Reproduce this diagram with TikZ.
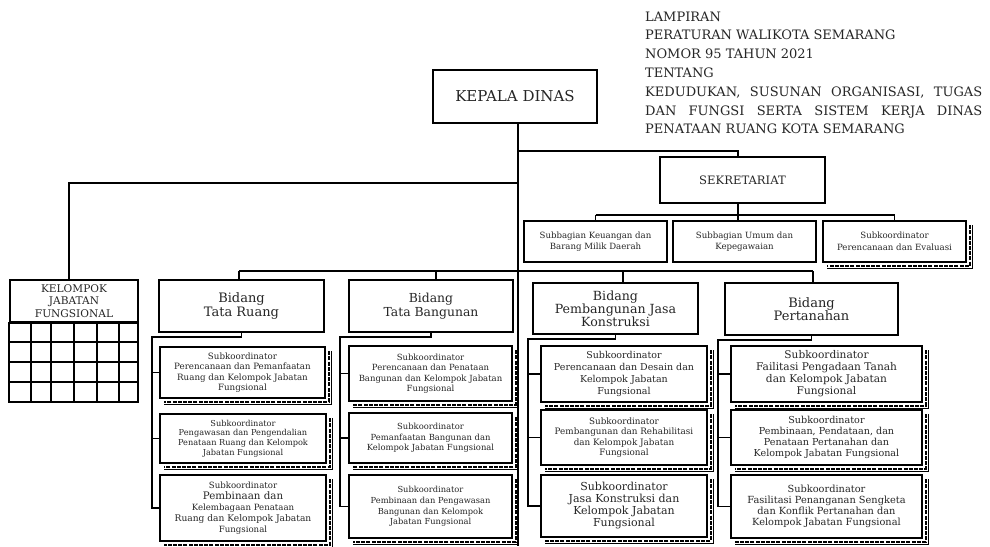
\documentclass[tikz,border=0pt]{standalone}
\usepackage{fontspec}
\setmainfont{DejaVu Serif}
\newcommand{\fsz}[2]{\fontsize{#1}{#2}\selectfont}
\newcommand{\shd}[1]{%
 \draw[line width=0.8pt] ([shift={(5.5,5)}]#1.north east) -- ([shift={(5.5,5.5)}]#1.south east) -- ([shift={(5,5.5)}]#1.south west);
 \draw[line width=2.2pt, dash pattern=on 4pt off 1.2pt] ([shift={(3,5)}]#1.north east) -- ([shift={(3,3)}]#1.south east) -- ([shift={(5,3)}]#1.south west);
}
\begin{document}
\begin{tikzpicture}[x=1pt,y=-1pt,
  box/.style={draw, line width=1.6pt, fill=white, align=center, inner sep=1pt, text=black!85},
  conn/.style={line width=1.4pt},
  hdr/.style={inner sep=0pt, anchor=base west, font=\fsz{13}{15}, text=black!85}]
\useasboundingbox[fill=white] (0,0) rectangle (990,546);

% header
\node[hdr] (h1) at (645,21) {LAMPIRAN};
\node[hdr] (h2) at (645,39.8) {PERATURAN WALIKOTA SEMARANG};
\node[hdr] (h3) at (645,58.6) {NOMOR 95 TAHUN 2021};
\node[hdr] (h4) at (645,77.4) {TENTANG};
\node[hdr] (h5) at (645,96.2) {\makebox[337pt][s]{KEDUDUKAN, SUSUNAN ORGANISASI, TUGAS}};
\node[hdr] (h6) at (645,115) {\makebox[337pt][s]{DAN FUNGSI SERTA SISTEM KERJA DINAS}};
\node[hdr] (h7) at (645,133.8) {PENATAAN RUANG KOTA SEMARANG};

% kepala & sekretariat
\node[box, minimum width=164, minimum height=53, font=\fsz{15}{17}] (kd) at (515,96.5) {KEPALA DINAS};
\node[box, minimum width=165, minimum height=46, font=\fsz{11.6}{14}] (sek) at (742.5,180) {SEKRETARIAT};
\node[box, minimum width=143, minimum height=41, font=\fsz{8.6}{11.5}] (sb1) at (595.5,241.5) {Subbagian Keuangan dan\\Barang Milik Daerah};
\node[box, minimum width=143, minimum height=41, font=\fsz{8.6}{11.5}] (sb2) at (744.5,241.5) {Subbagian Umum dan\\Kepegawaian};
\node[box, minimum width=143, minimum height=41, font=\fsz{8.6}{11.5}] (sb3) at (894.5,241.5) {Subkoordinator\\Perencanaan dan Evaluasi};
\shd{sb3}

% kelompok jabatan fungsional
\node[box, minimum width=128, minimum height=42, font=\fsz{10.6}{12.2}] (kjf) at (74,301) {KELOMPOK\\JABATAN\\FUNGSIONAL};
\draw[line width=1.5pt] (kjf.south west) rectangle (138,402);
\foreach \gx in {31,51,74,97,119} \draw[line width=1.5pt] (\gx,322) -- (\gx,402);
\foreach \gy in {342,362,382} \draw[line width=1.5pt] (10,\gy) -- (138,\gy);

% bidang
\node[box, minimum width=165, minimum height=52, font=\fsz{13}{13.5}] (tr) at (241.5,306) {Bidang\\Tata Ruang};
\node[box, minimum width=164, minimum height=52, font=\fsz{12.4}{13.5}] (tb) at (431,306) {Bidang\\Tata Bangunan};
\node[box, minimum width=165, minimum height=51, font=\fsz{12.6}{13}] (pj) at (615.5,308.5) {Bidang\\Pembangunan Jasa\\Konstruksi};
\node[box, minimum width=173, minimum height=52, font=\fsz{13}{13.5}] (pt) at (811.5,309) {Bidang\\Pertanahan};

% subkoordinator boxes
\node[box, minimum width=165, minimum height=51, font=\fsz{8.7}{10.5}] (tr1) at (242.5,372.5) {Subkoordinator\\Perencanaan dan Pemanfaatan\\Ruang dan Kelompok Jabatan\\Fungsional};
\node[box, minimum width=166, minimum height=49, font=\fsz{8.2}{9.6}] (tr2) at (243,438.5) {Subkoordinator\\Pengawasan dan Pengendalian\\Penataan Ruang dan Kelompok\\Jabatan Fungsional};
\node[box, minimum width=166, minimum height=66, font=\fsz{8.6}{11}] (tr3) at (243,508) {Subkoordinator\\\fsz{10.3}{11}Pembinaan dan\\Kelembagaan Penataan\\\fsz{9.1}{11}Ruang dan Kelompok Jabatan\\Fungsional};
\node[box, minimum width=163, minimum height=55, font=\fsz{8.5}{10.5}] (tb1) at (430.5,373.5) {Subkoordinator\\Perencanaan dan Penataan\\Bangunan dan Kelompok Jabatan\\Fungsional};
\node[box, minimum width=163, minimum height=50, font=\fsz{8.4}{10.5}] (tb2) at (430.5,438) {Subkoordinator\\Pemanfaatan Bangunan dan\\Kelompok Jabatan Fungsional};
\node[box, minimum width=163, minimum height=63, font=\fsz{8.3}{10.8}] (tb3) at (430.5,506.5) {Subkoordinator\\Pembinaan dan Pengawasan\\Bangunan dan Kelompok\\Jabatan Fungsional};
\node[box, minimum width=166, minimum height=56, font=\fsz{9.5}{12}] (pj1) at (624,374) {Subkoordinator\\Perencanaan dan Desain dan\\Kelompok Jabatan\\Fungsional};
\node[box, minimum width=166, minimum height=55, font=\fsz{8.8}{10.5}] (pj2) at (624,437.5) {Subkoordinator\\Pembangunan dan Rehabilitasi\\dan Kelompok Jabatan\\Fungsional};
\node[box, minimum width=166, minimum height=62, font=\fsz{11}{12}] (pj3) at (624,506) {Subkoordinator\\Jasa Konstruksi dan\\Kelompok Jabatan\\Fungsional};
\node[box, minimum width=191, minimum height=56, font=\fsz{10.6}{12}] (pt1) at (826.5,374) {Subkoordinator\\Failitasi Pengadaan Tanah\\dan Kelompok Jabatan\\Fungsional};
\node[box, minimum width=191, minimum height=55, font=\fsz{9.6}{11}] (pt2) at (826.5,437.5) {Subkoordinator\\Pembinaan, Pendataan, dan\\Penataan Pertanahan dan\\Kelompok Jabatan Fungsional};
\node[box, minimum width=191, minimum height=63, font=\fsz{9.8}{11}] (pt3) at (826.5,506.5) {Subkoordinator\\Fasilitasi Penanganan Sengketa\\dan Konflik Pertanahan dan\\Kelompok Jabatan Fungsional};
\foreach \n in {tr1,tr2,tr3,tb1,tb2,tb3,pj1,pj2,pj3,pt1,pt2,pt3} {\shd{\n}}

% connectors
\coordinate (bot) at (518,546);
\coordinate (j1) at (518,151);
\coordinate (j2) at (518,183);
\coordinate (sj) at (738,215);
\coordinate (kx) at (69,280);
\coordinate (rL) at (239,271);
\coordinate (rR) at (813,271);
\coordinate (dTB) at (436,271);
\coordinate (dPJ) at (623,271);
\draw[conn] (bot |- kd.south) -- (bot);
\draw[conn] (j1) -| ([xshift=-4.5]sek.north);
\draw[conn] (j2) -| (kx);
\draw[conn] ([xshift=-4.5]sek.south) -- (sj);
\draw[conn] (sb1.north |- sj) -- (sb3.north |- sj);
\draw[conn] (sb1.north |- sj) -- (sb1.north);
\draw[conn] (sj) -- (sj |- sb2.north);
\draw[conn] (sb3.north |- sj) -- (sb3.north);
\draw[conn] (rL) -- (rR);
\draw[conn] (rL) -- (rL |- tr.north);
\draw[conn] (dTB) -- (dTB |- tb.north);
\draw[conn] (dPJ) -- (dPJ |- pj.north);
\draw[conn] (rR) -- (rR |- pt.north);
\foreach \bb/\s in {tr/152, tb/340, pj/528, pt/718} {
  \coordinate (sp\bb) at (\s,0);
  \draw[conn] (\bb.south) -- ++(0,4) -| (sp\bb |- \bb3.west) -- (\bb3.west);
  \draw[conn] (sp\bb |- \bb1.west) -- (\bb1.west);
  \draw[conn] (sp\bb |- \bb2.west) -- (\bb2.west);
}
\end{tikzpicture}
\end{document}
